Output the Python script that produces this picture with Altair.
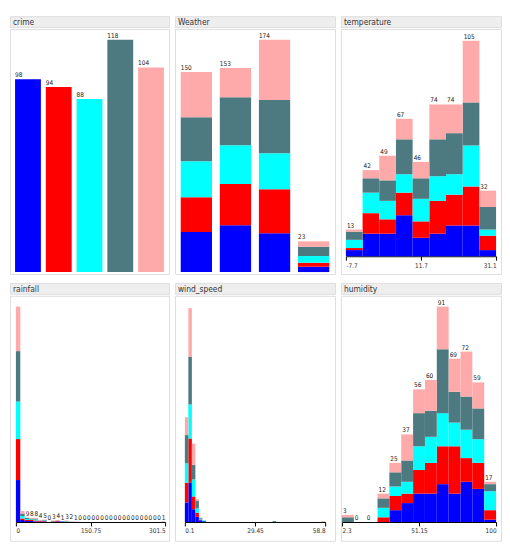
import altair as alt
import pandas as pd

FONT = "Liberation Sans Narrow, DejaVu Sans Condensed, Liberation Sans, sans-serif"

# ---------------- data ----------------
crime_types = ["assault", "burglary", "robbery", "theft", "vandalism"]
crime_colors = ["#0000FF", "#FF0000", "#00FFFF", "#4C7A80", "#FFAAAA"]
crime_counts = [98, 94, 88, 118, 104]

weather_types = ["clear", "cloudy", "rain", "snow"]
weather_assault = [30, 35, 29, 4]
weather_burglary = [26, 31, 33, 3]
weather_robbery = [27, 29, 27, 5]
weather_theft = [33, 36, 40, 7]
weather_vandalism = [34, 22, 45, 4]

temp_range = [-7.7, 31.1]
temp_ticks = [-7.7, 11.7, 31.1]
temp_assault = [3, 11, 11, 20, 9, 11, 15, 15, 3]
temp_burglary = [1, 10, 7, 11, 8, 16, 15, 19, 7]
temp_robbery = [4, 10, 9, 9, 11, 12, 10, 20, 3]
temp_theft = [4, 7, 10, 17, 10, 18, 20, 21, 11]
temp_vandalism = [1, 4, 12, 10, 8, 17, 14, 30, 8]

rain_range = [0, 301.5]
rain_ticks = [0, 150.75, 301.5]
rain_hidden_labels = [0, 1]
rain_assault = [84, 4, 2, 2, 1, 1, 1, 0, 0, 1, 1, 0, 0, 0, 0, 0, 0, 0, 0, 0, 0, 0, 0, 0, 0, 0, 0, 0, 0, 0, 0, 0, 0, 0]
rain_burglary = [82, 3, 2, 2, 2, 1, 1, 0, 1, 1, 0, 1, 0, 0, 0, 0, 0, 0, 0, 0, 0, 0, 0, 0, 0, 0, 0, 0, 0, 0, 0, 0, 0, 0]
rain_robbery = [75, 5, 2, 1, 2, 0, 1, 0, 0, 0, 0, 1, 1, 0, 0, 0, 0, 0, 0, 0, 0, 0, 0, 0, 0, 0, 0, 0, 0, 0, 0, 0, 0, 0]
rain_theft = [101, 5, 2, 2, 2, 1, 1, 0, 1, 1, 0, 0, 0, 0, 0, 0, 0, 0, 0, 0, 0, 0, 0, 0, 0, 0, 0, 0, 0, 0, 0, 0, 0, 0]
rain_vandalism = [89, 5, 1, 1, 1, 1, 1, 0, 1, 1, 0, 1, 1, 1, 0, 0, 0, 0, 0, 0, 0, 0, 0, 0, 0, 0, 0, 0, 0, 0, 0, 0, 0, 1]

wind_range = [0.1, 58.8]
wind_ticks = [0.1, 29.45, 58.8]
wind_assault = [23, 46, 15, 6, 2, 1, 0, 0, 0, 0, 0, 0, 0, 0, 0, 0, 0, 0, 0, 0, 0, 0, 0, 0, 0, 0, 0, 0, 0, 0, 0, 0, 0, 0, 0, 0, 0, 0, 0, 0]
wind_burglary = [23, 52, 15, 5, 1, 0, 0, 0, 0, 0, 0, 0, 0, 0, 0, 0, 0, 0, 0, 0, 0, 0, 0, 0, 0, 0, 0, 0, 0, 0, 0, 0, 0, 0, 0, 0, 0, 0, 0, 0]
wind_robbery = [23, 40, 20, 5, 1, 1, 0, 0, 0, 0, 0, 0, 0, 0, 0, 0, 0, 0, 0, 0, 0, 0, 0, 0, 0, 0, 0, 0, 0, 0, 0, 0, 0, 0, 0, 0, 0, 0, 0, 0]
wind_theft = [33, 56, 17, 9, 1, 0, 0, 0, 0, 0, 0, 0, 0, 0, 0, 0, 0, 0, 0, 0, 0, 0, 0, 0, 0, 1, 0, 0, 0, 0, 0, 0, 0, 0, 0, 0, 0, 0, 0, 0]
wind_vandalism = [21, 57, 25, 2, 0, 0, 0, 0, 0, 0, 0, 0, 0, 0, 0, 0, 0, 0, 0, 0, 0, 0, 0, 0, 0, 0, 0, 0, 0, 0, 0, 0, 0, 0, 0, 0, 0, 0, 0, 1]

hum_range = [2.3, 100]
hum_ticks = [2.3, 51.15, 100]
hum_assault = [0, 0, 0, 0, 5, 8, 12, 12, 16, 12, 17, 14, 1]
hum_burglary = [0, 0, 0, 2, 6, 4, 10, 13, 16, 20, 10, 11, 4]
hum_robbery = [0, 0, 0, 4, 4, 5, 10, 11, 14, 10, 12, 10, 8]
hum_theft = [2, 0, 0, 4, 6, 9, 14, 11, 27, 13, 14, 13, 3]
hum_vandalism = [1, 0, 0, 2, 4, 11, 10, 13, 18, 14, 19, 11, 1]

# ---------------- layout / style ----------------
W = [161, 162, 162]
HEADER_H = 11
BODY_H = 248
LABEL_SIZE = 6.5
BODY_VIEW = alt.ViewBackground(fill="white", stroke="#DDDDDD", strokeWidth=1)
HEADER_VIEW = alt.ViewBackground(fill="#EEEEEE", stroke="#DDDDDD", strokeWidth=1)
color_scale = alt.Scale(domain=crime_types, range=crime_colors)


def header(title, w):
    df = pd.DataFrame({"t": [title]})
    return alt.Chart(df).mark_text(
        align="left", baseline="middle", font=FONT, fontSize=8.5, color="#333333"
    ).encode(
        x=alt.value(3), y=alt.value(6), text="t:N"
    ).properties(width=w, height=HEADER_H, view=HEADER_VIEW)


def column(title, body, w):
    return alt.vconcat(header(title, w), body, spacing=0)


# crime panel
crime_df = pd.DataFrame({"crime": crime_types, "count": crime_counts})
crime_bars = alt.Chart(crime_df).mark_bar().encode(
    x=alt.X("crime:N", sort=crime_types,
            scale=alt.Scale(paddingInner=0.16, paddingOuter=0.165), axis=None),
    y=alt.Y("count:Q", scale=alt.Scale(range=[246, 11], nice=False, zero=True), axis=None),
    color=alt.Color("crime:N", scale=color_scale, legend=None),
)
crime_text = alt.Chart(crime_df).mark_text(
    align="left", baseline="bottom", font=FONT, fontSize=LABEL_SIZE, color="#222222", dy=-1
).encode(
    x=alt.X("crime:N", sort=crime_types, bandPosition=0), y="count:Q", text="count:Q"
)
crime_body = alt.layer(crime_bars, crime_text).properties(width=W[0], height=BODY_H, view=BODY_VIEW)

# weather panel
weather_series = [weather_assault, weather_burglary, weather_robbery, weather_theft, weather_vandalism]
wrows = []
for k, (ct, vals) in enumerate(zip(crime_types, weather_series)):
    for wt, v in zip(weather_types, vals):
        wrows.append({"weather": wt, "crime": ct, "order": k, "count": v})
weather_df = pd.DataFrame(wrows)
weather_bars = alt.Chart(weather_df).mark_bar().encode(
    x=alt.X("weather:N", sort=weather_types,
            scale=alt.Scale(paddingInner=0.2, paddingOuter=0.147), axis=None),
    y=alt.Y("sum(count):Q", stack="zero",
            scale=alt.Scale(range=[246, 11], nice=False, zero=True), axis=None),
    color=alt.Color("crime:N", scale=color_scale, legend=None),
    order=alt.Order("order:Q"),
)
weather_text = alt.Chart(weather_df).transform_aggregate(
    total="sum(count)", groupby=["weather"]
).mark_text(
    align="left", baseline="bottom", font=FONT, fontSize=LABEL_SIZE, color="#222222", dy=-1
).encode(
    x=alt.X("weather:N", sort=weather_types, bandPosition=0), y="total:Q", text="total:Q"
)
weather_body = alt.layer(weather_bars, weather_text).properties(width=W[1], height=BODY_H, view=BODY_VIEW)


def hist_body(rng, ticks, series, w, xrange, yrange, axis_y, show_labels=True, hidden=()):
    lo, hi = rng
    n = len(series[0])
    step = (hi - lo) / n
    rows = []
    for k, (ct, vals) in enumerate(zip(crime_types, series)):
        for i, v in enumerate(vals):
            rows.append({"bin": i, "start": lo + i * step, "end": lo + (i + 1) * step,
                         "crime": ct, "order": k, "count": v,
                         "show": 0 if i in hidden else 1})
    df = pd.DataFrame(rows)
    xscale = alt.Scale(domain=[lo, hi], range=xrange, nice=False, zero=False)
    xaxis = alt.Axis(values=ticks, title=None, grid=False, labelFlush=True,
                     labelExpr="'' + datum.value", labelFont=FONT, labelFontSize=6.5,
                     labelColor="#333333", labelPadding=2, domainColor="#000000",
                     tickColor="#000000", tickSize=4, offset=axis_y - BODY_H)
    yscale = alt.Scale(range=yrange, nice=False, zero=True)
    bars = alt.Chart(df).transform_stack(
        stack="count", groupby=["bin"], sort=[alt.SortField("order")], as_=["y0", "y1"]
    ).mark_bar().encode(
        x=alt.X("start:Q", scale=xscale, axis=xaxis),
        x2="end:Q",
        y=alt.Y("y0:Q", scale=yscale, axis=None),
        y2="y1:Q",
        color=alt.Color("crime:N", scale=color_scale, legend=None),
    )
    layers = [bars]
    if show_labels:
        text = alt.Chart(df).transform_aggregate(
            total="sum(count)", groupby=["bin", "start", "show"]
        ).transform_filter("datum.show == 1").mark_text(
            align="left", baseline="bottom", font=FONT, fontSize=LABEL_SIZE, color="#222222",
            dx=1, dy=-1
        ).encode(x="start:Q", y="total:Q", text="total:Q")
        layers.append(text)
    return alt.layer(*layers).properties(width=w, height=BODY_H, view=BODY_VIEW)


temp_body = hist_body(temp_range, temp_ticks,
                      [temp_assault, temp_burglary, temp_robbery, temp_theft, temp_vandalism],
                      W[2], [5, 157], [230, 12], 230)
rain_body = hist_body(rain_range, rain_ticks,
                      [rain_assault, rain_burglary, rain_robbery, rain_theft, rain_vandalism],
                      W[0], [6, 157], [229, 11], 229, hidden=rain_hidden_labels)
wind_body = hist_body(wind_range, wind_ticks,
                      [wind_assault, wind_burglary, wind_robbery, wind_theft, wind_vandalism],
                      W[1], [10, 152], [229, 12.5], 229, show_labels=False)
hum_body = hist_body(hum_range, hum_ticks,
                     [hum_assault, hum_burglary, hum_robbery, hum_theft, hum_vandalism],
                     W[2], [1, 157], [229, 11], 229)

row1 = alt.hconcat(column("crime", crime_body, W[0]),
                   column("Weather", weather_body, W[1]),
                   column("temperature", temp_body, W[2]), spacing=4)
row2 = alt.hconcat(column("rainfall", rain_body, W[0]),
                   column("wind_speed", wind_body, W[1]),
                   column("humidity", hum_body, W[2]), spacing=4)

chart = alt.vconcat(row1, row2, spacing=7).properties(
    padding={"left": 1, "top": 4, "right": 0, "bottom": 0}
).configure_view(stroke="transparent")

chart.save("out.html", embed_options={"renderer": "svg", "actions": False})
